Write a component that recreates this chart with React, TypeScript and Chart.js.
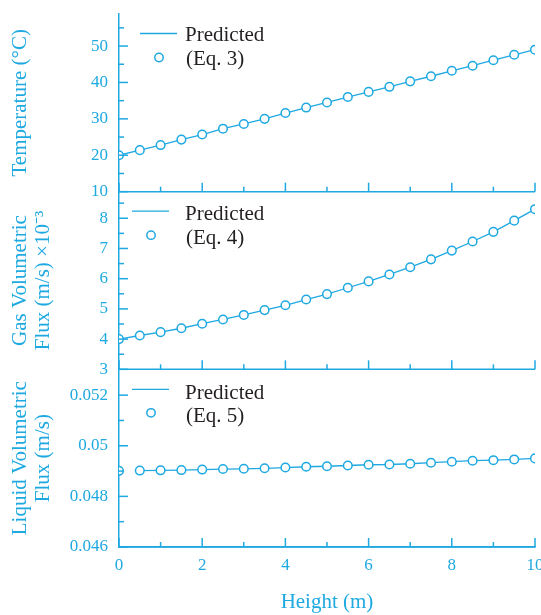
import { useEffect, useRef } from "react";
import { Chart, registerables } from "chart.js";

Chart.register(...registerables);

// ---------- data ----------
const heights = [0, 0.5, 1, 1.5, 2, 2.5, 3, 3.5, 4, 4.5, 5, 5.5, 6, 6.5, 7, 7.5, 8, 8.5, 9, 9.5, 10];
const temperature = [20.0, 21.4, 22.8, 24.3, 25.7, 27.3, 28.6, 30.0, 31.6, 33.1, 34.5, 36.0, 37.4, 38.8, 40.3, 41.7, 43.2, 44.6, 46.1, 47.6, 49.0];
const gasFlux = [4.0, 4.12, 4.23, 4.36, 4.51, 4.65, 4.8, 4.96, 5.12, 5.31, 5.49, 5.7, 5.91, 6.14, 6.38, 6.64, 6.93, 7.23, 7.55, 7.92, 8.3];
const liquidFlux = [0.04901, 0.04902, 0.04903, 0.04904, 0.04906, 0.04908, 0.04909, 0.04911, 0.04914, 0.04917, 0.04919, 0.04922, 0.04925, 0.04926, 0.04929, 0.04933, 0.04937, 0.04941, 0.04943, 0.04946, 0.0495];

const xTicks = [0, 2, 4, 6, 8, 10];
const xMinorTicks = [1, 3, 5, 7, 9];
const tempTicks = [10, 20, 30, 40, 50];
const tempMinorTicks = [15, 25, 35, 45, 55];
const gasTicks = [3, 4, 5, 6, 7, 8];
const gasMinorTicks = [3.5, 4.5, 5.5, 6.5, 7.5, 8.5];
const liquidTicks = [0.046, 0.048, 0.05, 0.052];
const liquidMinorTicks = [0.047, 0.049, 0.051];

const legendPredicted = "Predicted";
const legendEquations = ["(Eq. 3)", "(Eq. 4)", "(Eq. 5)"];
const yTitles: (string | string[])[] = [
  "Temperature (°C)",
  ["Gas Volumetric", "Flux (m/s) ×10⁻³"],
  ["Liquid Volumetric", "Flux (m/s)"],
];
const xTitle = "Height (m)";

// ---------- style ----------
const COLOR = "#1fa9e1";
const TEXT_DARK = "#231f20";
const TICK_FONT = { family: "'Liberation Serif', serif", size: 17 };
const TITLE_FONT = { family: "'Liberation Serif', serif", size: 21, lineHeight: 1.1 };
const LEGEND_FONT = "21px 'Liberation Serif', serif";

const pts = (ys: number[]) => heights.map((h, i) => ({ x: h, y: ys[i] }));

const panelDefs = [
  { id: "yT", major: tempTicks, minor: tempMinorTicks, lineX: [140, 177], circleX: 159, lg: { line: 19.5, pred: 27, circle: 43.5, eq: 51 } },
  { id: "yG", major: gasTicks, minor: gasMinorTicks, lineX: [132, 169], circleX: 151, lg: { line: 19.5, pred: 28.5, circle: 43.5, eq: 52 } },
  { id: "yL", major: liquidTicks, minor: liquidMinorTicks, lineX: [132, 169], circleX: 151, lg: { line: 20, pred: 30, circle: 43.5, eq: 53 } },
];

const panelsPlugin = {
  id: "panels",
  afterDatasetsDraw(chart: any) {
    const ctx = chart.ctx as CanvasRenderingContext2D;
    const xs = chart.scales.x;
    ctx.save();
    ctx.strokeStyle = COLOR;
    ctx.lineWidth = 1.5;
    const seg = (x1: number, y1: number, x2: number, y2: number) => {
      ctx.beginPath();
      ctx.moveTo(x1, y1);
      ctx.lineTo(x2, y2);
      ctx.stroke();
    };
    panelDefs.forEach((p, idx) => {
      const s = chart.scales[p.id];
      ctx.lineWidth = 1.5;
      // panel bottom line
      seg(xs.left, s.bottom, xs.right, s.bottom);
      // inward x ticks
      xTicks.forEach((v) => {
        const px = xs.getPixelForValue(v);
        seg(px, s.bottom, px, s.bottom - 9);
      });
      xMinorTicks.forEach((v) => {
        const px = xs.getPixelForValue(v);
        seg(px, s.bottom, px, s.bottom - 5);
      });
      // inward y ticks
      p.major.forEach((v) => {
        const py = s.getPixelForValue(v);
        seg(s.right, py, s.right + 9, py);
      });
      p.minor.forEach((v) => {
        const py = s.getPixelForValue(v);
        seg(s.right, py, s.right + 5, py);
      });
      // legend
      const top = s.top;
      ctx.lineWidth = 1.3;
      seg(p.lineX[0], top + p.lg.line, p.lineX[1], top + p.lg.line);
      ctx.beginPath();
      ctx.arc(p.circleX, top + p.lg.circle, 4.2, 0, Math.PI * 2);
      ctx.fillStyle = "#ffffff";
      ctx.fill();
      ctx.lineWidth = 1.5;
      ctx.stroke();
      ctx.fillStyle = TEXT_DARK;
      ctx.font = LEGEND_FONT;
      ctx.textAlign = "left";
      ctx.textBaseline = "alphabetic";
      ctx.fillText(legendPredicted, 185, top + p.lg.pred);
      ctx.fillText(legendEquations[idx], 186, top + p.lg.eq);
    });
    ctx.restore();
  },
};

function yScale(major: number[], min: number, max: number, title: string | string[]) {
  return {
    type: "linear",
    position: "left",
    stack: "panels",
    stackWeight: 1,
    min,
    max,
    grid: { display: false, drawTicks: false },
    border: { display: true, color: COLOR, width: 1.5 },
    afterBuildTicks: (s: any) => {
      s.ticks = major.map((v) => ({ value: v }));
    },
    afterFit: (s: any) => {
      s.width = 119;
      s.paddingTop = 0;
      s.paddingBottom = 0;
    },
    ticks: {
      color: COLOR,
      font: TICK_FONT,
      padding: 11,
      autoSkip: false,
      callback: (v: number) => String(Math.round(v * 1000) / 1000),
    },
    title: {
      display: true,
      text: title,
      color: COLOR,
      font: TITLE_FONT,
      padding: { top: 8.5, bottom: 0 },
    },
  };
}

export default function App() {
  const ref = useRef<HTMLCanvasElement>(null);
  useEffect(() => {
    if (!ref.current) return;
    const pointStyle = {
      showLine: false,
      pointRadius: 4.3,
      pointBorderWidth: 1.5,
      pointBackgroundColor: "#ffffff",
      pointBorderColor: COLOR,
      borderColor: COLOR,
    };
    const lineStyle = {
      showLine: true,
      pointRadius: 0,
      borderWidth: 1.3,
      borderColor: COLOR,
      tension: 0,
    };
    const chart = new Chart(ref.current, {
      type: "line",
      data: {
        datasets: [
          { ...pointStyle, label: legendEquations[0], data: pts(temperature), yAxisID: "yT" },
          { ...pointStyle, label: legendEquations[1], data: pts(gasFlux), yAxisID: "yG" },
          { ...pointStyle, label: legendEquations[2], data: pts(liquidFlux), yAxisID: "yL" },
          { ...lineStyle, label: legendPredicted, data: pts(temperature), yAxisID: "yT" },
          { ...lineStyle, label: legendPredicted, data: pts(gasFlux), yAxisID: "yG" },
          { ...lineStyle, label: legendPredicted, data: pts(liquidFlux).slice(1), yAxisID: "yL" },
        ] as any,
      },
      options: {
        responsive: false,
        animation: false,
        devicePixelRatio: 1,
        layout: { padding: { top: 14, right: 6, bottom: 0, left: 0 } },
        plugins: { legend: { display: false }, tooltip: { enabled: false } },
        events: [],
        scales: {
          x: {
            type: "linear",
            min: 0,
            max: 10,
            grid: { display: false, drawTicks: false },
            border: { display: true, color: COLOR, width: 1.5 },
            afterBuildTicks: (s: any) => {
              s.ticks = xTicks.map((v) => ({ value: v }));
            },
            afterFit: (s: any) => {
              s.height = 68;
              s.paddingLeft = 0;
              s.paddingRight = 0;
            },
            ticks: { color: COLOR, font: TICK_FONT, padding: 8, maxRotation: 0, autoSkip: false },
            title: {
              display: true,
              text: xTitle,
              color: COLOR,
              font: { family: "'Liberation Serif', serif", size: 21, lineHeight: 1.2 },
              padding: { top: 0, bottom: 0 },
            },
          },
          // stacked left axes: last listed is placed at the top
          yL: yScale(liquidTicks, 0.046, 0.05302, yTitles[2]),
          yG: yScale(gasTicks, 3, 8.88, yTitles[1]),
          yT: yScale(tempTicks, 10, 58.8, yTitles[0]),
        } as any,
      },
      plugins: [panelsPlugin],
    });
    return () => chart.destroy();
  }, []);
  return (
    <div style={{ position: "fixed", left: 0, top: 0, width: 541, height: 615, background: "#fff" }}>
      <canvas ref={ref} width={541} height={615} style={{ width: 541, height: 615, display: "block" }} />
    </div>
  );
}
